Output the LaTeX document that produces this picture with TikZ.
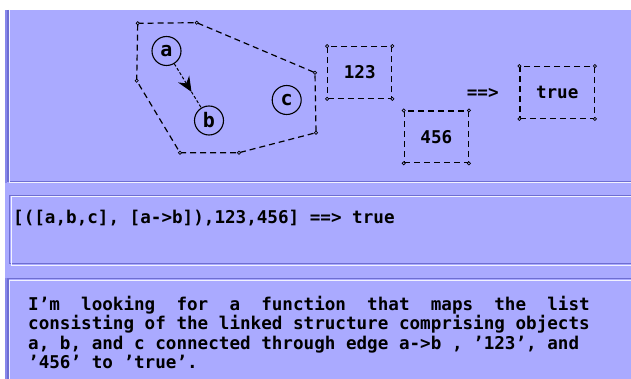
\documentclass[tikz,border=0pt]{standalone}
\usepackage{fontspec}
\setmonofont{DejaVu Sans Mono}
\usetikzlibrary{shapes.geometric,arrows.meta}
\definecolor{lav}{RGB}{170,170,255}
\definecolor{edgedark}{RGB}{110,110,210}
\definecolor{edgemid}{RGB}{136,136,235}
\definecolor{edgelight}{RGB}{242,242,255}
\begin{document}
\begin{tikzpicture}[x=1pt,y=-1pt,
  monofnt/.style={font=\ttfamily\bfseries\fontsize{17.6}{20}\selectfont},
  txt/.style={monofnt, inner sep=0pt, anchor=base west},
  lbl/.style={monofnt, inner sep=0pt},
  dashline/.style={black, line width=1.2pt, dash pattern=on 6pt off 4pt},
  dbox/.style={dashline, monofnt, inner sep=0pt, rectangle},
  obj/.style={circle, draw, black, line width=1.1pt, minimum size=29pt, inner sep=0pt,
    font=\ttfamily\bfseries\fontsize{20}{22}\selectfont},
  vmark/.style={circle, draw, black, fill=lav, line width=0.7pt, inner sep=0pt, minimum size=3.2pt},
  linkline/.style={black, line width=1pt, dash pattern=on 3pt off 2pt},
  linkhead/.style={black, line width=1pt, dash pattern=on 3pt off 2pt,
    -{Stealth[length=15pt,width=13pt,inset=5pt,sep=0pt]}}
]
\useasboundingbox (0,0) rectangle (631,379);
\fill[white] (0,0) rectangle (631,379);
\fill[lav] (5,10) rectangle (631,379);
% panel 1 frame
\fill[edgemid] (5,10) rectangle (7,183);
\draw[edgedark, line width=1.5pt] (7.75,10) -- (7.75,181.5) -- (631,181.5);
\draw[edgelight, line width=1pt] (9.5,10) -- (9.5,183) -- (631,183);
% panel 2 frame
\draw[edgedark, line width=1.2pt] (631,195.5) -- (9.5,195.5) -- (9.5,263.5) -- (631,263.5);
\draw[edgelight, line width=1pt] (631,197) -- (11,197) -- (11,265) -- (631,265);
% panel 3 frame
\fill[edgemid] (5,278) rectangle (7,379);
\draw[edgedark, line width=1.5pt] (631,278.5) -- (7.75,278.5) -- (7.75,379);
\draw[edgelight, line width=1pt] (631,280) -- (9.5,280) -- (9.5,379);

% polygon (linked structure)
\coordinate (p1) at (137.7,23.3);
\coordinate (p2) at (196.7,22.7);
\coordinate (p3) at (315,72.7);
\coordinate (p4) at (316,132.7);
\coordinate (p5) at (239,152.7);
\coordinate (p6) at (180,152.7);
\coordinate (p7) at (136.7,80.7);
\draw[dashline] (p1) -- (p2) -- (p3) -- (p4) -- (p5) -- (p6) -- (p7) -- cycle;
\foreach \p in {p1,p2,p3,p4,p5,p6,p7} \node[vmark] (m\p) at (\p) {};

% objects
\node[obj] (a) at (166.5,51) {a};
\node[obj] (b) at (209,120.5) {b};
\node[obj] (c) at (286.7,100) {c};
\path (a) -- (b) coordinate[pos=0.64] (amid);
\draw[linkhead] (a) -- (amid);
\draw[linkline] (amid) -- (b);

% boxes
\node[dbox, draw, minimum width=64pt, minimum height=51.6pt] (n123) at (359.7,72.5) {123};
\node[dbox, draw, minimum width=64pt, minimum height=51.7pt] (n456) at (436.3,136.9) {456};
\node[dbox, draw, minimum width=74.3pt, minimum height=51.6pt] (ntrue) at (557.2,92.5) {true};
\foreach \n in {n123,n456,ntrue}
  \foreach \an in {north west,north east,south west,south east}
    \node[vmark] (\n-\an) at (\n.\an) {};
\node[lbl] (imp) at (482.7,93.3) {==>};

% panel 2 text
\node[txt] (expr) at (13,224) {[([a,b,c], [a->b]),123,456] ==> true};

% panel 3 text
\node[txt] (l1) at (28,310) {I’m~~looking~~for~~a~~function~~that~~maps~~the~~list};
\node[txt] (l2) at (28,329.5) {consisting of the linked structure comprising objects};
\node[txt] (l3) at (28,349) {a, b, and c connected through edge a->b , ’123’, and};
\node[txt] (l4) at (28,368.5) {’456’ to ’true’.};
\end{tikzpicture}
\end{document}
